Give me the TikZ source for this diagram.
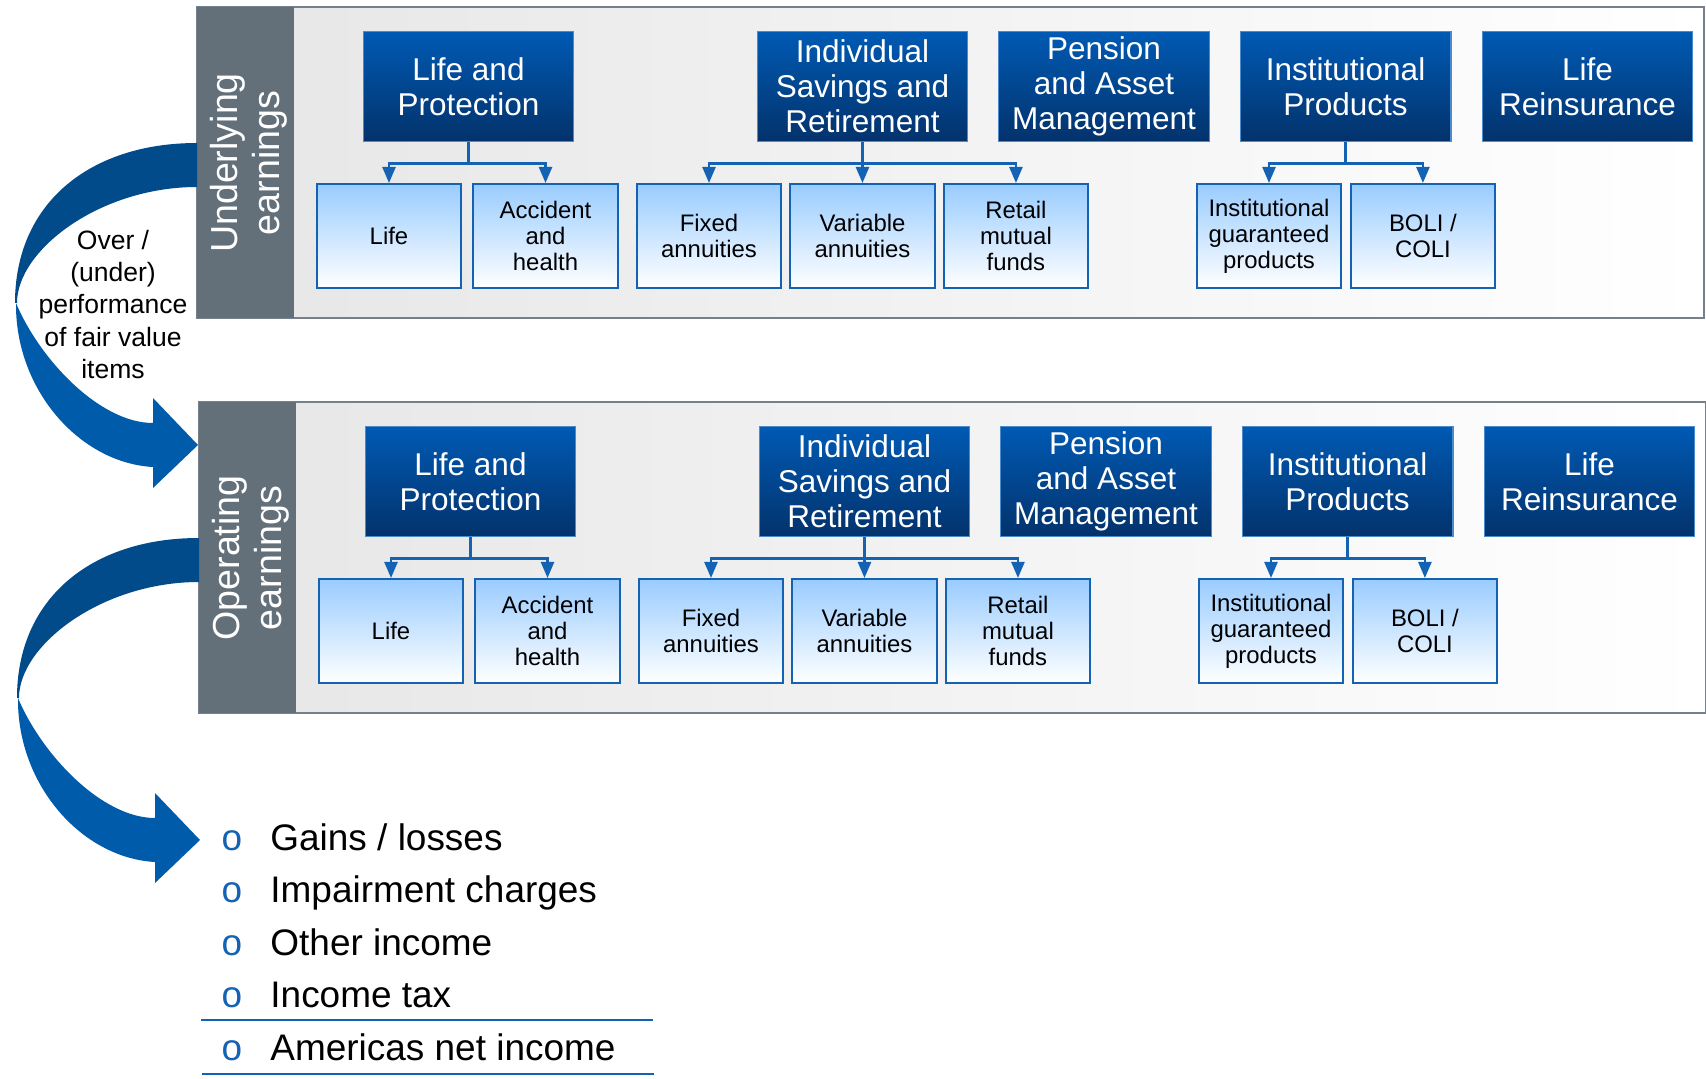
\documentclass[tikz,border=0pt]{standalone}
\usepackage{fontspec}
\setmainfont{Liberation Sans}
\usetikzlibrary{positioning, arrows.meta}

\definecolor{bandgray}{HTML}{636F79}
\definecolor{panelline}{HTML}{75808A}
\definecolor{panelgray}{HTML}{E6E6E6}
\definecolor{headtop}{HTML}{005AB4}
\definecolor{headbottom}{HTML}{03326B}
\definecolor{paleblue}{HTML}{99CCFF}
\definecolor{boxline}{HTML}{1462B4}
\definecolor{turnback}{HTML}{024B8A}
\definecolor{turnfront}{HTML}{005BAB}

\tikzset{
	panel/.style={draw=panelline, line width=1.2pt, left color=panelgray, right color=white},
	bandlabel/.style={text=white, rotate=90, align=center, inner sep=0pt, font=\fontsize{17.3}{19.5}\selectfont},
	head/.style={draw=headtop!70!white, line width=0.5pt, top color=headtop, bottom color=headbottom,
		text=white, minimum width=97pt, minimum height=51pt, inner sep=0pt, align=center,
		font=\fontsize{14.5}{16}\selectfont},
	sub/.style={draw=boxline, line width=0.9pt, top color=paleblue, bottom color=white,
		minimum width=66.5pt, minimum height=47.8pt, inner sep=0pt, align=center,
		font=\fontsize{11}{12}\selectfont},
	branch/.style={draw=boxline, line width=1.3pt, -{Triangle[length=7.5pt, width=6pt]}},
	overtext/.style={align=center, inner sep=0pt, font=\fontsize{12.2}{14.8}\selectfont},
	dot/.style={text=boxline, inner sep=0pt, font=\fontsize{17}{20}\selectfont},
	item/.style={inner sep=0pt, font=\fontsize{17}{20}\selectfont},
	rule/.style={draw=boxline, line width=0.9pt}
}

\begin{document}
\begin{tikzpicture}[x=0.46pt, y=-0.46pt]
	\useasboundingbox (0,0) rectangle (1706,1079);

	% the two earnings panels, each with the arrow that leaves it
	\foreach \s/\dx/\dy/\band in {u/0/0/{Underlying\\earnings}, o/2/395/{Operating\\earnings}} {
	\begin{scope}[shift={(\dx,\dy)}]
		\draw[panel] (197,7) rectangle (1704,318);
		\fill[bandgray] (197,7) rectangle (294,318);
		\node[bandlabel] (band\s) at (248.5,163) {\band};

		\node[head] (lp\s) at (468.5,86.5) {Life and\\Protection};
		\node[head] (isr\s) at (862.5,86.5) {Individual\\Savings and\\Retirement};
		\node[head, right=13.6pt of isr\s] (pam\s) {Pension\\and Asset\\Management};
		\node[head, right=13.6pt of pam\s] (ip\s) {Institutional\\Products};
		\node[head, right=13.8pt of ip\s] (lr\s) {Life\\Reinsurance};

		\node[sub] (life\s) at (389,236) {Life};
		\node[sub, right=4.6pt of life\s] (ah\s) {Accident\\and\\health};
		\node[sub] (fa\s) at (709,236) {Fixed\\annuities};
		\node[sub, right=3.2pt of fa\s] (va\s) {Variable\\annuities};
		\node[sub, right=3.2pt of va\s] (rmf\s) {Retail\\mutual\\funds};
		\node[sub] (igp\s) at (1269,236) {Institutional\\guaranteed\\products};
		\node[sub, right=3.4pt of igp\s] (boli\s) {BOLI /\\COLI};

		\draw[branch] (lp\s.south) -- ++(0,21) -| (life\s.north);
		\draw[branch] (lp\s.south) -- ++(0,21) -| (ah\s.north);
		\draw[branch] (isr\s.south) -- ++(0,21) -| (fa\s.north);
		\draw[branch] (isr\s.south) -- (va\s.north);
		\draw[branch] (isr\s.south) -- ++(0,21) -| (rmf\s.north);
		\draw[branch] (ip\s.south) -- ++(0,21) -| (igp\s.north);
		\draw[branch] (ip\s.south) -- ++(0,21) -| (boli\s.north);

		% turning arrow
		\fill[turnback] (197,143) .. controls (90,143) and (15,203) .. (15,303)
			-- (17,303) .. controls (17,250) and (100,187) .. (197,187) -- cycle;
		\fill[turnfront] (16,303) .. controls (15,390) and (80,463) .. (153,467)
			-- (153,488) -- (198,445) -- (153,398) -- (153,423)
			.. controls (100,423) and (40,360) .. (16,303) -- cycle;
	\end{scope}
	}

	\node[overtext] (fairval) at (113,304.5) {Over /\\(under)\\performance\\of fair value\\items};

	% what takes operating earnings to net income
	\foreach \t [count=\i] in {Gains / losses, Impairment charges, Other income, Income tax, Americas net income} {
		\node[dot, anchor=base] (dot\i) at (232,797.5+52.5*\i) {o};
		\node[item, anchor=base west] (item\i) at (270,797.5+52.5*\i) {\t};
	}
	\draw[rule] (201,1020) -- (653,1020);
	\draw[rule] (202,1074) -- (654,1074);
\end{tikzpicture}
\end{document}
